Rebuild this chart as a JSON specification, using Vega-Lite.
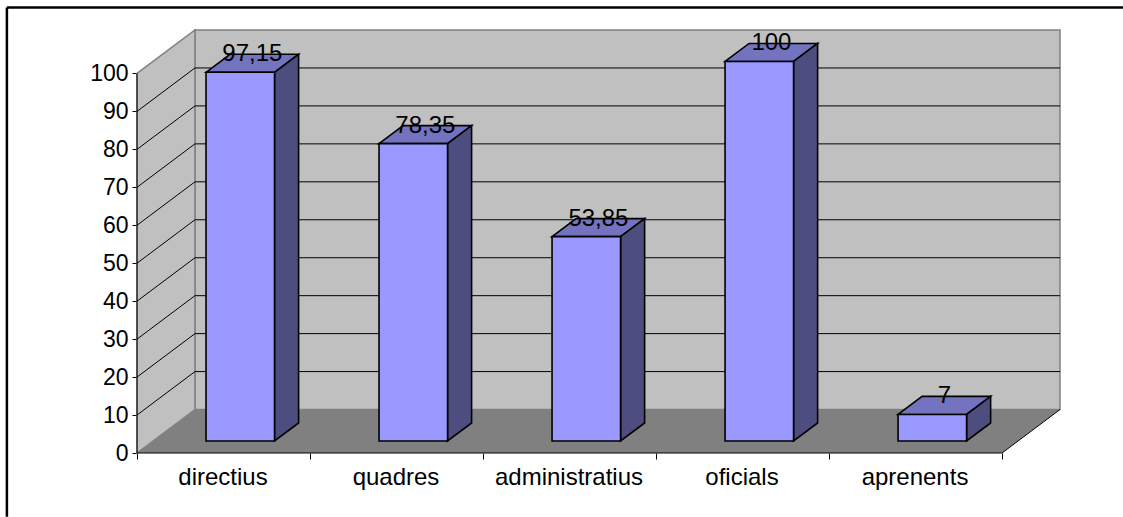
{
"$schema":"https://vega.github.io/schema/vega-lite/v6.json",
"width":923,"height":423,
"autosize":"none",
"padding":{"left":137,"top":30,"right":63,"bottom":64},
"background":"white",
"config":{"view":{"stroke":null},"font":"Liberation Sans"},
"datasets":{
"frame":[{"x":-0.752,"x2":5.71,"y":117.4,"y2":117.4},{"x":-0.752,"x2":-0.752,"y":117.4,"y2":-16.8}],
"floor":[{"x":0,"y":0,"y2":0},{"x":0.335,"y":11.45,"y2":0},{"x":5,"y":11.45,"y2":0},{"x":5.335,"y":11.45,"y2":11.45}],
"leftwall":[{"x":0,"y":100,"y2":0},{"x":0.335,"y":111.45,"y2":11.45}],
"grid":[
{"v":10,"x":0,"y":10},{"v":10,"x":0.335,"y":21.45},{"v":10,"x":5.335,"y":21.45},
{"v":20,"x":0,"y":20},{"v":20,"x":0.335,"y":31.45},{"v":20,"x":5.335,"y":31.45},
{"v":30,"x":0,"y":30},{"v":30,"x":0.335,"y":41.45},{"v":30,"x":5.335,"y":41.45},
{"v":40,"x":0,"y":40},{"v":40,"x":0.335,"y":51.45},{"v":40,"x":5.335,"y":51.45},
{"v":50,"x":0,"y":50},{"v":50,"x":0.335,"y":61.45},{"v":50,"x":5.335,"y":61.45},
{"v":60,"x":0,"y":60},{"v":60,"x":0.335,"y":71.45},{"v":60,"x":5.335,"y":71.45},
{"v":70,"x":0,"y":70},{"v":70,"x":0.335,"y":81.45},{"v":70,"x":5.335,"y":81.45},
{"v":80,"x":0,"y":80},{"v":80,"x":0.335,"y":91.45},{"v":80,"x":5.335,"y":91.45},
{"v":90,"x":0,"y":90},{"v":90,"x":0.335,"y":101.45},{"v":90,"x":5.335,"y":101.45}
],
"edges":[
{"x":0,"x2":5,"y":0,"y2":0},
{"x":0,"x2":0,"y":0,"y2":100}
],
"diag":[{"x":5,"y":0},{"x":5.335,"y":11.45}],
"faces":[
{"category":"directius","face":"top","x":0.399,"y":100.31,"y2":100.31},
{"category":"directius","face":"top","x":0.538,"y":105.06,"y2":100.31},
{"category":"directius","face":"top","x":0.795,"y":105.06,"y2":100.31},
{"category":"directius","face":"top","x":0.934,"y":105.06,"y2":105.06},
{"category":"directius","face":"side","x":0.795,"y":100.31,"y2":3.16},
{"category":"directius","face":"side","x":0.934,"y":105.06,"y2":7.91},
{"category":"directius","face":"front","x":0.399,"y":100.31,"y2":3.16},
{"category":"directius","face":"front","x":0.795,"y":100.31,"y2":3.16},
{"category":"quadres","face":"top","x":1.399,"y":81.51,"y2":81.51},
{"category":"quadres","face":"top","x":1.538,"y":86.26,"y2":81.51},
{"category":"quadres","face":"top","x":1.795,"y":86.26,"y2":81.51},
{"category":"quadres","face":"top","x":1.934,"y":86.26,"y2":86.26},
{"category":"quadres","face":"side","x":1.795,"y":81.51,"y2":3.16},
{"category":"quadres","face":"side","x":1.934,"y":86.26,"y2":7.91},
{"category":"quadres","face":"front","x":1.399,"y":81.51,"y2":3.16},
{"category":"quadres","face":"front","x":1.795,"y":81.51,"y2":3.16},
{"category":"administratius","face":"top","x":2.399,"y":57.01,"y2":57.01},
{"category":"administratius","face":"top","x":2.538,"y":61.76,"y2":57.01},
{"category":"administratius","face":"top","x":2.795,"y":61.76,"y2":57.01},
{"category":"administratius","face":"top","x":2.934,"y":61.76,"y2":61.76},
{"category":"administratius","face":"side","x":2.795,"y":57.01,"y2":3.16},
{"category":"administratius","face":"side","x":2.934,"y":61.76,"y2":7.91},
{"category":"administratius","face":"front","x":2.399,"y":57.01,"y2":3.16},
{"category":"administratius","face":"front","x":2.795,"y":57.01,"y2":3.16},
{"category":"oficials","face":"top","x":3.399,"y":103.16,"y2":103.16},
{"category":"oficials","face":"top","x":3.538,"y":107.91,"y2":103.16},
{"category":"oficials","face":"top","x":3.795,"y":107.91,"y2":103.16},
{"category":"oficials","face":"top","x":3.934,"y":107.91,"y2":107.91},
{"category":"oficials","face":"side","x":3.795,"y":103.16,"y2":3.16},
{"category":"oficials","face":"side","x":3.934,"y":107.91,"y2":7.91},
{"category":"oficials","face":"front","x":3.399,"y":103.16,"y2":3.16},
{"category":"oficials","face":"front","x":3.795,"y":103.16,"y2":3.16},
{"category":"aprenents","face":"top","x":4.399,"y":10.16,"y2":10.16},
{"category":"aprenents","face":"top","x":4.538,"y":14.91,"y2":10.16},
{"category":"aprenents","face":"top","x":4.795,"y":14.91,"y2":10.16},
{"category":"aprenents","face":"top","x":4.934,"y":14.91,"y2":14.91},
{"category":"aprenents","face":"side","x":4.795,"y":10.16,"y2":3.16},
{"category":"aprenents","face":"side","x":4.934,"y":14.91,"y2":7.91},
{"category":"aprenents","face":"front","x":4.399,"y":10.16,"y2":3.16},
{"category":"aprenents","face":"front","x":4.795,"y":10.16,"y2":3.16}
],
"labels":[
{"category":"directius","value":97.15,"label":"97,15","x":0.667,"y":105.06,"cx":0.497},
{"category":"quadres","value":78.35,"label":"78,35","x":1.667,"y":86.26,"cx":1.497},
{"category":"administratius","value":53.85,"label":"53,85","x":2.667,"y":61.76,"cx":2.497},
{"category":"oficials","value":100,"label":"100","x":3.667,"y":107.91,"cx":3.497},
{"category":"aprenents","value":7,"label":"7","x":4.667,"y":14.91,"cx":4.497}
]
},
"layer":[
{"data":{"name":"frame"},"mark":{"type":"rule","stroke":"#000000","strokeWidth":2.5,"clip":false},
"encoding":{"x":{"field":"x","type":"quantitative"},"x2":{"field":"x2"},"y":{"field":"y","type":"quantitative"},"y2":{"field":"y2"}}},
{"data":{"values":[{"x":0.335,"x2":5.335,"y":11.45,"y2":111.45}]},"mark":{"type":"rect","fill":"#C0C0C0","stroke":"#808080","strokeWidth":1.5},
"encoding":{"x":{"field":"x","type":"quantitative","scale":{"domain":[0,5.335],"nice":false,"zero":false},
"axis":{"title":null,"values":[0,1,2,3,4,5],"labels":false,"grid":false,"domain":false,"ticks":true,"tickSize":6,"tickColor":"#000000"}},
"x2":{"field":"x2"},
"y":{"field":"y","type":"quantitative","scale":{"domain":[0,111.45],"nice":false,"zero":false},
"axis":{"title":null,"values":[0,10,20,30,40,50,60,70,80,90,100],"grid":false,"domain":false,"tickSize":5,"tickColor":"#000000","labelFontSize":23,"labelColor":"#000000","labelPadding":4,"labelFont":"Liberation Sans"}},
"y2":{"field":"y2"}}},
{"data":{"name":"leftwall"},"mark":{"type":"area","fill":"#C0C0C0","stroke":"#808080","strokeWidth":1.5},
"encoding":{"x":{"field":"x","type":"quantitative"},"y":{"field":"y","type":"quantitative"},"y2":{"field":"y2"}}},
{"data":{"name":"floor"},"mark":{"type":"area","fill":"#808080"},
"encoding":{"x":{"field":"x","type":"quantitative"},"y":{"field":"y","type":"quantitative"},"y2":{"field":"y2"}}},
{"data":{"name":"grid"},"mark":{"type":"line","stroke":"#000000","strokeWidth":1},
"encoding":{"x":{"field":"x","type":"quantitative"},"y":{"field":"y","type":"quantitative"},"detail":{"field":"v"}}},
{"data":{"name":"edges"},"mark":{"type":"rule","stroke":"#000000","strokeWidth":1},
"encoding":{"x":{"field":"x","type":"quantitative"},"x2":{"field":"x2"},"y":{"field":"y","type":"quantitative"},"y2":{"field":"y2"}}},
{"data":{"name":"diag"},"mark":{"type":"line","stroke":"#000000","strokeWidth":1},
"encoding":{"x":{"field":"x","type":"quantitative"},"y":{"field":"y","type":"quantitative"}}},
{"data":{"name":"faces"},"mark":{"type":"area","stroke":"#000000","strokeWidth":1.6,"opacity":1},
"encoding":{"x":{"field":"x","type":"quantitative"},"y":{"field":"y","type":"quantitative"},"y2":{"field":"y2"},
"detail":{"field":"category"},
"color":{"field":"face","type":"nominal","legend":null,"scale":{"domain":["top","side","front"],"range":["#7373BF","#4D4D80","#9999FF"]}}}},
{"data":{"name":"labels"},"mark":{"type":"text","fontSize":24,"font":"Liberation Sans","color":"#000000","baseline":"middle","align":"center"},
"encoding":{"x":{"field":"x","type":"quantitative"},"y":{"field":"y","type":"quantitative"},"text":{"field":"label"}}},
{"data":{"name":"labels"},"mark":{"type":"text","fontSize":24,"font":"Liberation Sans","color":"#000000","baseline":"middle","align":"center","clip":false},
"encoding":{"x":{"field":"cx","type":"quantitative"},"y":{"datum":-6.5,"type":"quantitative"},"text":{"field":"category"}}}
]
}
